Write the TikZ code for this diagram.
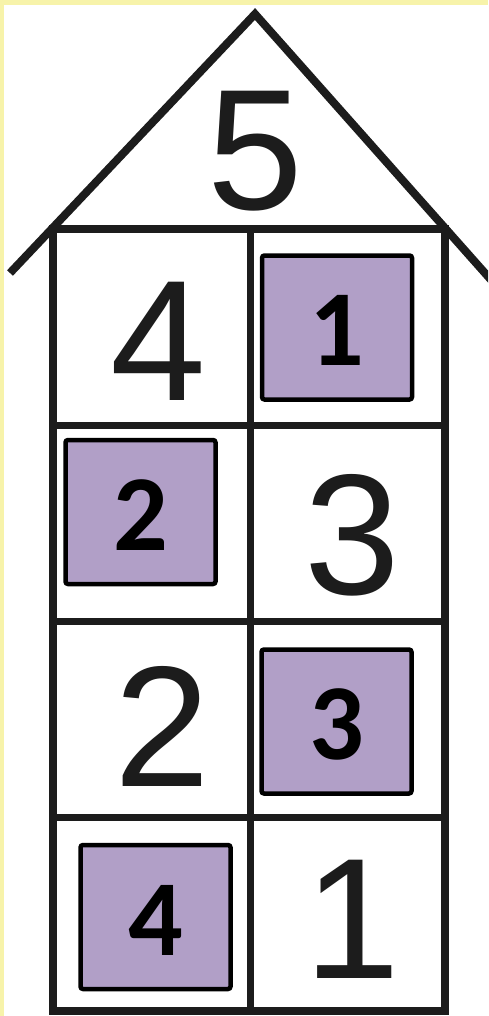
\documentclass[tikz,border=0pt]{standalone}
\usepackage{fontspec}
\setmainfont{Liberation Sans}
\newfontfamily\boxfont{Carlito}
\definecolor{bgyellow}{HTML}{F7F3AA}
\definecolor{boxpurple}{HTML}{B19FC7}
\definecolor{ink}{HTML}{1C1C1C}
\begin{document}
\begin{tikzpicture}[x=1pt,y=-1pt,
  wall/.style={draw=ink,line width=8pt,line join=miter},
  inner/.style={draw=ink,line width=7pt},
  bignum/.style={font=\fontsize{172}{172}\selectfont, text=ink, inner sep=0pt},
  tile/.style={draw=black, fill=boxpurple, line width=4.5pt, rounded corners=2.5pt,
    minimum width=150pt, minimum height=144pt, inner sep=0pt,
    font=\boxfont\bfseries\fontsize{108}{108}\selectfont, text height=76pt}]
\fill[bgyellow] (0,0) rectangle (488,1016);
\fill[white] (4,5) rectangle (488,1016);
\useasboundingbox (0,0) rectangle (488,1016);
\begin{scope}
\clip (0,0) rectangle (488,1016);
% roof
\coordinate (eaveL) at (10,273);
\coordinate (apex) at (255,14);
\coordinate (eaveR) at (492,281);
\draw[wall,line cap=butt] (eaveL) -- (apex) -- (eaveR);
% top beam
\coordinate (beamL) at (50,229);
\coordinate (beamR) at (441,229);
\draw[wall] (beamL) -- (beamR);
% frame
\draw[wall] (53,229) rectangle (445,1011);
% middle wall
\draw[inner] (250,229) -- (250,1011);
% floors
\draw[inner] (53,425) -- (445,425);
\draw[inner] (53,621) -- (445,621);
\draw[inner] (53,817) -- (445,817);
\end{scope}
% numbers
\node[bignum] (n5) at (255,151.5) {5};
\node[bignum] (n4) at (158.5,341.5) {4};
\node[bignum] (n3) at (352,535.5) {3};
\node[bignum] (n2) at (162,726.5) {2};
\node[bignum] (n1) at (352.5,919.5) {1};
% tiles
\node[tile] (t1) at (337,327.5) {1};
\node[tile] (t2) at (140.5,512) {2};
\node[tile] (t3) at (336.5,721.5) {3};
\node[tile] (t4) at (155.5,917) {4};
\end{tikzpicture}
\end{document}
